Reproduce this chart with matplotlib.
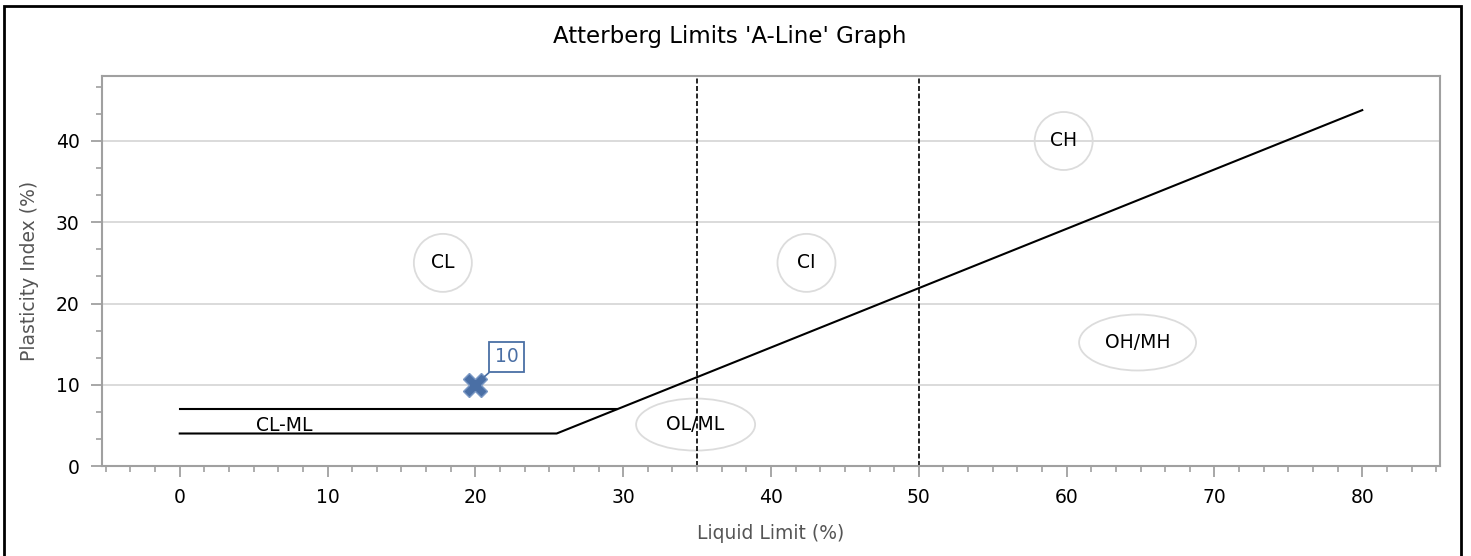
import matplotlib
matplotlib.use("Agg")
import matplotlib.pyplot as plt
from matplotlib.patches import Ellipse, Rectangle
from matplotlib.ticker import MultipleLocator
from matplotlib.transforms import ScaledTranslation

plt.rcParams['font.family'] = 'DejaVu Sans'

# A-line and CL-ML band
a_line_x = [0, 25.5, 80]
a_line_y = [4, 4, 43.8]
clml_top_x = [0, 29.6]
clml_top_y = [7, 7]

# liquid limit boundaries (dashed)
ll_bounds = [35, 50]

# zone labels
zone_names = ['CL', 'CI', 'CH', 'OH/MH', 'OL/ML']
zone_x = [17.8, 42.4, 59.8, 64.8, 34.9]
zone_y = [25.0, 25.0, 40.0, 15.2, 5.1]
zone_w = [58, 58, 58, 117, 119]   # pixel sizes of the label ellipses
zone_h = [58, 58, 58, 56, 52]

# sample points
sample_ll = [20]
sample_pi = [10]
sample_ids = ['10']

W, H, DPI = 1471, 556, 100
fig = plt.figure(figsize=(W / DPI, H / DPI), dpi=DPI)
ax = fig.add_axes([102 / W, 1 - 466 / H, (1440 - 102) / W, (466 - 76) / H])

grey = '#a0a0a0'
blue = '#4a6fa5'

ax.set_xlim(-5.26, 85.26)
ax.set_ylim(0, 48)

ax.yaxis.grid(True, color='#d8d8d8', lw=1.3)
ax.set_axisbelow(True)

ax.plot(a_line_x, a_line_y, color='black', lw=1.5)
ax.plot(clml_top_x, clml_top_y, color='black', lw=1.5)
for xb in ll_bounds:
    ax.axvline(xb, color='black', lw=1.2, ls=(0, (3, 1.5)))

ax.text(7.1, 5.0, 'CL-ML', ha='center', va='center', fontsize=13.5)

for name, x, y, w, h in zip(zone_names, zone_x, zone_y, zone_w, zone_h):
    tr = fig.dpi_scale_trans + ScaledTranslation(x, y, ax.transData)
    ax.add_patch(Ellipse((0, 0), w / DPI, h / DPI, transform=tr,
                         fill=False, ec='#dcdcdc', lw=1.3))
    ax.text(x, y, name, ha='center', va='center', fontsize=13.5)

ax.plot(sample_ll, sample_pi, ls='none', marker='X', ms=17,
        mfc=blue, mec='#7a98c4', mew=1.0, zorder=5)
for x, y, lab in zip(sample_ll, sample_pi, sample_ids):
    ax.annotate(lab, (x, y), xytext=(22.5, 20), textcoords='offset points',
                ha='center', va='center', fontsize=13.5, color=blue,
                bbox=dict(boxstyle='square,pad=0.3', fc='white', ec=blue, lw=1.3),
                arrowprops=dict(arrowstyle='-', color=blue, lw=1.2,
                                shrinkA=0, shrinkB=0), zorder=6)

ax.xaxis.set_major_locator(MultipleLocator(10))
ax.xaxis.set_minor_locator(MultipleLocator(10 / 6))
ax.yaxis.set_major_locator(MultipleLocator(10))
ax.yaxis.set_minor_locator(MultipleLocator(10 / 3))
ax.set_xticks([0, 10, 20, 30, 40, 50, 60, 70, 80])

for s in ax.spines.values():
    s.set_color(grey)
    s.set_linewidth(1.5)
ax.tick_params(which='major', length=8, width=1.3, color=grey,
               labelsize=13.5, pad=8)
ax.tick_params(which='minor', length=4, width=1.2, color=grey)

ax.set_xlabel('Liquid Limit (%)', fontsize=13.5, color='#555555', labelpad=12)
ax.set_ylabel('Plasticity Index (%)', fontsize=13.5, color='#555555', labelpad=12)

fig.text(730 / W, 1 - 36 / H, "Atterberg Limits 'A-Line' Graph",
         ha='center', va='center', fontsize=16.5)

fig.patches.append(Rectangle((4 / W, -0.1), (1461 - 4) / W, 1.1 - 6 / H,
                             transform=fig.transFigure, fill=False,
                             ec='black', lw=2))

fig.savefig('out.png', dpi=DPI)
